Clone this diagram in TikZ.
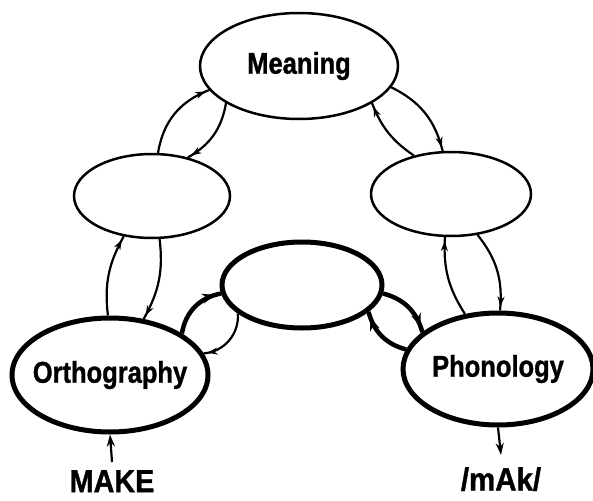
\documentclass[tikz,border=0pt]{standalone}
\usepackage{graphicx}
\usepackage{fontspec}
\setmainfont{Liberation Sans}[BoldFeatures={FakeBold=1.2}]
\usetikzlibrary{arrows.meta,decorations.markings,shapes.geometric}

\newcommand{\narrowtext}[2]{\makebox[0pt]{\scalebox{#1}[1]{#2}}}

\tikzset{
  lbl/.style={font=\fontsize{30}{30}\selectfont\bfseries},
  iolbl/.style={font=\fontsize{32}{32}\selectfont\bfseries, inner xsep=0pt},
  ell/.style={ellipse, draw, line width=2.5pt, inner sep=0pt},
  ellthick/.style={ellipse, draw, line width=5pt, inner sep=0pt},
  link/.style={line width=2.2pt, postaction={decorate},
    decoration={markings, mark=at position -4pt with {\arrow{Stealth[length=10pt,width=7pt]}}}},
  linkthick/.style={line width=4.5pt, postaction={decorate},
    decoration={markings, mark=at position -6pt with {\arrow{Stealth[length=13pt,width=10pt]}}}},
  io/.style={line width=2.2pt, -{Stealth[length=12pt,width=8pt]}},
}

\begin{document}
\begin{tikzpicture}[x=1pt,y=-1pt]
\useasboundingbox (0,0) rectangle (593,500);

% nodes
\node[ell, lbl, minimum width=198pt, minimum height=106pt] (M) at (299,66) {\narrowtext{0.85}{Meaning}};
\node[ell, minimum width=156pt, minimum height=84pt] (L) at (152,196) {};
\node[ell, minimum width=160pt, minimum height=84pt] (R) at (451,194) {};
\node[ellthick, minimum width=160pt, minimum height=86pt] (C) at (302,285) {};
\node[ellthick, lbl, minimum width=196pt, minimum height=114pt] (O) at (110,375) {\narrowtext{0.85}{Orthography}};
\node[ellthick, lbl, minimum width=190pt, minimum height=112pt] (P) at (498,369) {\narrowtext{0.85}{Phonology}};

\node[iolbl, anchor=north, inner ysep=8pt] (mk) at (112,462) {\scalebox{0.9}[1]{MAKE}};
\node[iolbl, anchor=north, inner ysep=12pt] (ph) at (501,455) {\scalebox{0.92}[1]{/mAk/}};

% Meaning <-> left
\draw[link] (L.82) to[bend left=30] (M.195);
\draw[link] (M.207) to[bend left=25] (L.47);
% Meaning <-> right
\draw[link] (M.347) to[bend left=25] (R.101);
\draw[link] (R.134) to[bend left=17] (M.333);
% Orthography <-> left
\draw[link] (O.92) to[bend left=18] (L.235);
\draw[link] (L.280) to[bend left=18] (O.59);
% Orthography <-> centre
\draw[linkthick] (O.30) to[bend left=35] (C.186);
\draw[link] (C.204) to[bend left=45] (O.13);
% centre <-> Phonology
\draw[linkthick] (C.354) to[bend left=30] (P.154);
\draw[linkthick] (P.168) to[bend left=30] (C.338);
% Phonology <-> right
\draw[link] (P.121) to[bend left=18] (R.262);
\draw[link] (R.303) to[bend left=22] (P.88);

% input / output
\draw[io] (mk.north) -- (O.south);
\draw[io] (P.south) -- (ph.north);
\end{tikzpicture}
\end{document}
